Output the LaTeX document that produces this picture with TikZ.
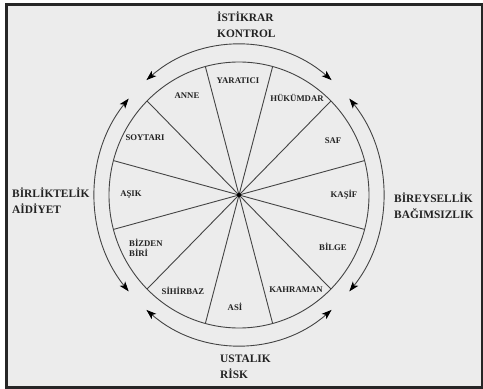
\documentclass[tikz,border=0pt]{standalone}
\usepackage{fontspec}
\setmainfont{Liberation Serif}
\usetikzlibrary{arrows.meta}
\definecolor{linec}{HTML}{444444}
\definecolor{bgc}{HTML}{ECECEC}
\definecolor{textc}{HTML}{222222}
\begin{document}
\begin{tikzpicture}[x=1pt,y=1pt,
  ring/.style={draw=linec, line width=0.9pt},
  spoke/.style={draw=linec, line width=0.9pt},
  cyc/.style={draw=linec, line width=0.9pt, {Stealth[length=10pt,width=7pt,inset=2.5pt,color=black]}-{Stealth[length=10pt,width=7pt,inset=2.5pt,color=black]}},
  arch/.style={font=\fontsize{8.7}{10}\selectfont\bfseries, text=textc, inner sep=0pt, align=left},
  pole/.style={font=\fontsize{11.4}{16}\selectfont\bfseries, text=textc, align=left, inner sep=0pt, anchor=west}]
\useasboundingbox (0,0) rectangle (483,389);
\fill[white] (0,0) rectangle (483,389);
\draw[line width=2.5pt, fill=bgc, draw=black!85] (6.5,1.5) rectangle (482,384.5);
\coordinate (C) at (239,194);
\draw[ring] (C) ellipse [x radius=130, y radius=133];
\foreach \a in {15,45,...,345} \draw[spoke] (C) -- ++(\a:130 and 133);
\begin{scope}[shift={(C)}]
\draw[cyc] (50:144 and 150) arc[start angle=50, end angle=130, x radius=144, y radius=150];
\draw[cyc] (140:144 and 150) arc[start angle=140, end angle=220, x radius=144, y radius=150];
\draw[cyc] (230:144 and 150) arc[start angle=230, end angle=310, x radius=144, y radius=150];
\draw[cyc] (-40:144 and 150) arc[start angle=-40, end angle=40, x radius=144, y radius=150];
\end{scope}
\fill[black] (C) circle (2);
\node[arch] (yaratici) at (238,308) {YARATICI};
\node[arch] (anne) at (187,293) {ANNE};
\node[arch] (hukumdar) at (297,291) {HÜKÜMDAR};
\node[arch] (soytari) at (145,251) {SOYTARI};
\node[arch] (saf) at (333,248) {SAF};
\node[arch] (asik) at (131,194) {AŞIK};
\node[arch] (kasif) at (344,194) {KAŞİF};
\node[arch, anchor=west] (bizden) at (129,141) {BİZDEN\\BİRİ};
\node[arch] (bilge) at (333,142) {BİLGE};
\node[arch] (sihirbaz) at (183,98) {SİHİRBAZ};
\node[arch] (kahraman) at (296,99) {KAHRAMAN};
\node[arch] (asi) at (235,82) {ASİ};
\node[pole] (ist) at (217,364) {İSTİKRAR\\KONTROL};
\node[pole] (bir) at (12,188) {BİRLİKTELİK\\AİDİYET};
\node[pole] (bey) at (394,183) {BİREYSELLİK\\BAĞIMSIZLIK};
\node[pole] (ust) at (220,22) {USTALIK\\RİSK};
\end{tikzpicture}
\end{document}
